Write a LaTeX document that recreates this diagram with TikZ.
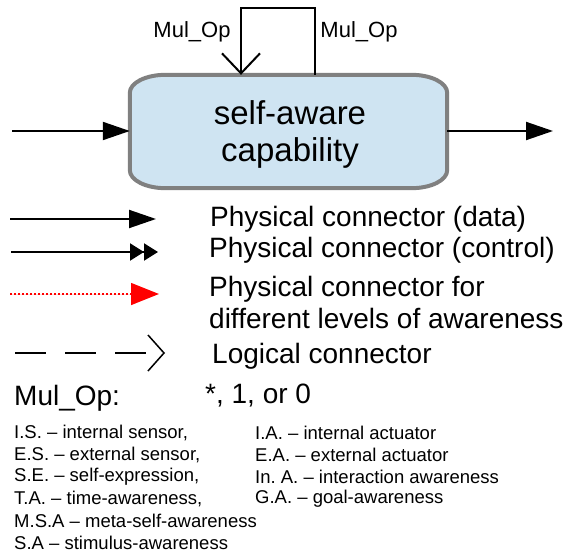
\documentclass[tikz,border=0pt]{standalone}
\usepackage{fontspec}
\setmainfont{Liberation Sans}
\frenchspacing
\usetikzlibrary{arrows.meta,calc}
\definecolor{SaBlue}{RGB}{207,228,242}
\definecolor{SaGray}{RGB}{128,128,128}
\definecolor{SaRed}{RGB}{255,0,0}
\tikzset{
  sa/box/.style={
    align=center,
    minimum width=317pt,
    minimum height=113pt,
    font=\fontsize{33}{37}\selectfont
  },
  sa/boxline/.style={draw=SaGray, line width=4pt, fill=SaBlue},
  sa/data/.style={-{Triangle[length=27pt,width=18pt]}, line width=2pt, draw=black},
  sa/control/.style={-{Triangle[length=14pt,width=17pt]Triangle[length=14pt,width=17pt]}, line width=2pt, draw=black},
  sa/levels/.style={-{Triangle[length=28pt,width=22pt]}, line width=1.5pt, dash pattern=on 2pt off 2pt, draw=SaRed, fill=SaRed},
  sa/logical/.style={-{Straight Barb[length=16pt,width=36pt]}, line width=1.5pt, dash pattern=on 31pt off 19pt, draw=black},
  sa/loop/.style={-{Straight Barb[length=20pt,width=38pt]}, line width=2pt, draw=black},
  sa/legend/.style={anchor=west, inner sep=0pt, align=left, font=\fontsize{28}{32}\selectfont},
  sa/mulop/.style={inner sep=0pt, font=\fontsize{22}{24}\selectfont},
  sa/abbrev/.style={anchor=west, inner sep=0pt, font=\fontsize{18.5}{20}\selectfont}
}
\begin{document}
\begin{tikzpicture}[x=1pt,y=-1pt]
  \useasboundingbox (0,0) rectangle (564,556);
  % capability with its self loop
  \node[sa/box] (cap) at (288.5,131.5) {};
  \draw[sa/boxline] ($(cap.north west)+(36,0)$) -- ($(cap.north east)+(-36,0)$)
    .. controls ($(cap.north east)+(-16,0)$) and ($(cap.north east)+(0,8)$) .. ($(cap.north east)+(0,18)$)
    -- ($(cap.south east)+(0,-18)$)
    .. controls ($(cap.south east)+(0,-8)$) and ($(cap.south east)+(-16,0)$) .. ($(cap.south east)+(-36,0)$)
    -- ($(cap.south west)+(36,0)$)
    .. controls ($(cap.south west)+(16,0)$) and ($(cap.south west)+(0,-8)$) .. ($(cap.south west)+(0,-18)$)
    -- ($(cap.north west)+(0,18)$)
    .. controls ($(cap.north west)+(0,8)$) and ($(cap.north west)+(16,0)$) .. cycle;
  \node[sa/box] (capT) at (290,134) {self-aware\\capability};
  \coordinate (in) at (12,131);
  \coordinate (out) at (553,131);
  \coordinate (loopR) at (315,8);
  \coordinate (loopL) at (241,8);
  \draw[sa/data] (in) -- (in -| cap.west);
  \draw[sa/data] (out -| cap.east) -- (out);
  \draw[sa/loop] (loopR |- cap.north) -- (loopR) -- (loopL) -- (loopL |- cap.north);
  \node[sa/mulop] (mulL) at (192,32) {Mul\_Op};
  \node[sa/mulop] (mulR) at (359,32) {Mul\_Op};
  % legend
  \coordinate (dataA) at (10,219);
  \coordinate (dataB) at (156,219);
  \coordinate (ctrlA) at (11,252);
  \coordinate (ctrlB) at (158,252);
  \coordinate (lvlA) at (10,294);
  \coordinate (lvlB) at (159,294);
  \coordinate (logA) at (15,353);
  \coordinate (logB) at (165,353);
  \draw[sa/data] (dataA) -- (dataB);
  \draw[sa/control] (ctrlA) -- (ctrlB);
  \draw[sa/levels] (lvlA) -- (lvlB);
  \draw[sa/logical] (logA) -- (logB);
  \node[sa/legend] (dataT) at (210,219) {Physical connector (data)};
  \node[sa/legend] (ctrlT) at (209,250) {Physical connector (control)};
  \node[sa/legend] (lvlT) at (209,302) {Physical connector for\\different levels of awareness};
  \node[sa/legend] (logT) at (212,356) {Logical connector};
  \node[sa/legend] (mulK) at (14,398) {Mul\_Op:};
  \node[sa/legend] (mulV) at (205,396) {*, 1, or 0};
  % abbreviations
  \node[sa/abbrev] (is) at (14,433) {I.S. -- internal sensor,};
  \node[sa/abbrev] (ia) at (255,433) {I.A. -- internal actuator};
  \node[sa/abbrev] (es) at (14,455) {E.S. -- external sensor,};
  \node[sa/abbrev] (ea) at (255,455) {E.A. -- external actuator};
  \node[sa/abbrev] (se) at (14,477) {S.E. -- self-expression,};
  \node[sa/abbrev] (ina) at (255,477) {In. A. -- interaction awareness};
  \node[sa/abbrev] (ta) at (14,499) {T.A. -- time-awareness,};
  \node[sa/abbrev] (ga) at (255,499) {G.A. -- goal-awareness};
  \node[sa/abbrev] (msa) at (14,521) {M.S.A -- meta-self-awareness};
  \node[sa/abbrev] (sa) at (14,543) {S.A -- stimulus-awareness};
\end{tikzpicture}
\end{document}
